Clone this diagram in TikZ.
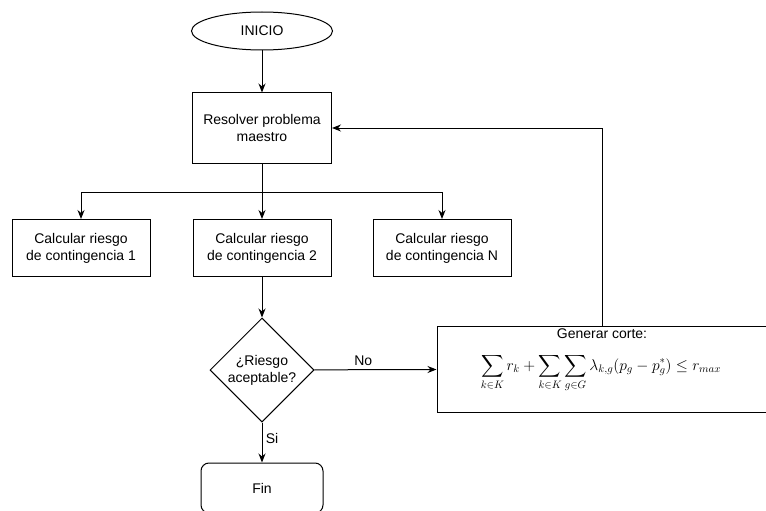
\documentclass[tikz,border=0pt]{standalone}
\usepackage{exscale}
\usepackage{fontspec}
\setmainfont{Liberation Sans}
\usetikzlibrary{shapes.geometric,arrows.meta}
\begin{document}
\begin{tikzpicture}[x=1pt,y=-1pt,>={Stealth[length=9pt,width=7pt]},line width=1pt,
			font=\fontsize{14}{17}\selectfont,
			caja/.style={draw,rectangle,align=center,minimum width=138,minimum height=57},
			decision/.style={draw,diamond,align=center,inner sep=0pt,minimum size=104},
			inicio/.style={draw,ellipse,minimum width=141,minimum height=38}]
			\useasboundingbox (0,0) rectangle (766,511);
			\node[inicio] (ini) at (262,31) {INICIO};
			\node[caja,minimum width=139,minimum height=70] (maestro) at (262,128) {Resolver problema\\maestro};
			\node[caja] (c1) at (81,248) {Calcular riesgo\\de contingencia 1};
			\node[caja] (c2) at (262,248) {Calcular riesgo\\de contingencia 2};
			\node[caja] (cN) at (442,248) {Calcular riesgo\\de contingencia N};
			\node[decision] (riesgo) at (262,370) {¿Riesgo\\aceptable?};
			\node[caja,minimum width=330,minimum height=86] (corte) at (602,369) {};
			\node[below,inner sep=3pt] (titcorte) at (corte.north) {Generar corte:};
			\node[inner sep=0pt] (formula) at (601,373) {\fontsize{14.4}{17}\selectfont\scalebox{1.08}{%
				$\displaystyle\sum_{k\in K}r_k+\sum_{k\in K}\sum_{g\in G}\lambda_{k,g}(p_g-p_g^*)\le r_{max}$}};
			\node[caja,rounded corners=8pt,minimum width=122,minimum height=50] (fin) at (262,488) {Fin};
			\coordinate (rama) at (262,192);
			\draw[->] (ini)--(maestro);
			\draw (maestro)--(rama);
			\draw[->] (rama)-|(c1);
			\draw[->] (rama)-|(cN);
			\draw[->] (rama)--(c2);
			\draw[->] (c2)--(riesgo);
			\draw[->] (riesgo)--node[pos=.4,above]{No}(corte);
			\draw[->] (riesgo)--node[pos=.4,right]{Si}(fin);
			\draw[->] (corte.north)|-(maestro);
\end{tikzpicture}
\end{document}
